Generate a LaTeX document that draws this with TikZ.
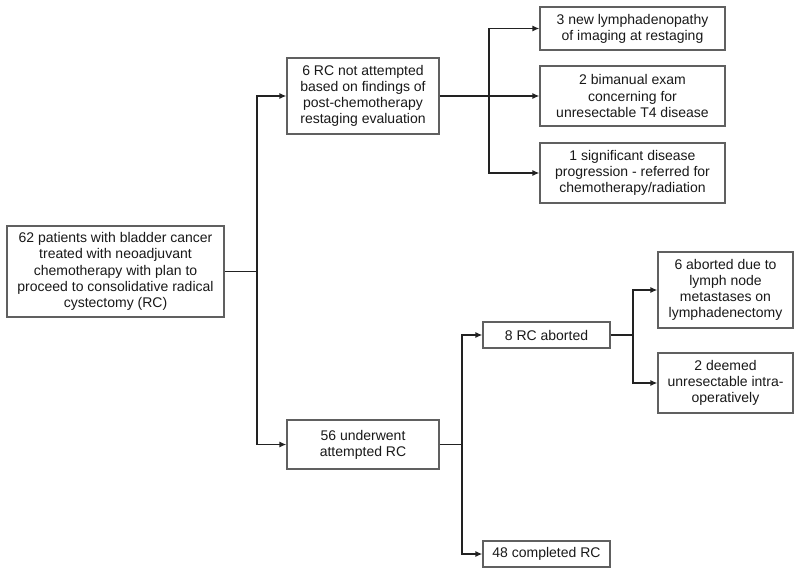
\documentclass[tikz,border=0pt]{standalone}
\usepackage{fontspec}
\setmainfont{Liberation Sans}
\usetikzlibrary{arrows.meta}
\definecolor{boxline}{HTML}{606060}
\definecolor{conn}{HTML}{222222}
\begin{document}
\begin{tikzpicture}[x=1pt,y=-1pt,
  box/.style={draw=boxline, line width=1.3pt, fill=white, align=center, inner sep=0pt,
    font=\fontsize{14}{16.2}\selectfont, text=black!90},
  conline/.style={draw=conn, line width=1.3pt},
  arr/.style={conline, -{Latex[length=7pt,width=6pt]}}]
\useasboundingbox (0,0) rectangle (800,575);
\fill[white] (0,0) rectangle (800,575);
\node[box, minimum width=217pt, minimum height=91pt] (main) at (115.5,271.5)
  {62 patients with bladder cancer\\treated with neoadjuvant\\chemotherapy with plan to\\proceed to consolidative radical\\cystectomy (RC)};
\node[box, minimum width=152pt, minimum height=76pt] (rcnot) at (363,96)
  {6 RC not attempted\\based on findings of\\post-chemotherapy\\restaging evaluation};
\node[box, minimum width=185pt, minimum height=43pt] (b1) at (632.5,28.5)
  {3 new lymphadenopathy\\of imaging at restaging};
\node[box, minimum width=185pt, minimum height=60pt] (b2) at (632.5,96)
  {2 bimanual exam\\concerning for\\unresectable T4 disease};
\node[box, minimum width=185pt, minimum height=60pt] (b3) at (632.5,173)
  {1 significant disease\\progression - referred for\\chemotherapy/radiation};
\node[box, minimum width=152pt, minimum height=49pt] (und) at (363,444.5)
  {56 underwent\\attempted RC};
\node[box, minimum width=127pt, minimum height=26pt] (abort) at (546.5,335)
  {8 RC aborted};
\node[box, minimum width=127pt, minimum height=26pt] (compl) at (546.5,554)
  {48 completed RC};
\node[box, minimum width=135pt, minimum height=76pt] (a1) at (725.5,290)
  {6 aborted due to\\lymph node\\metastases on\\lymphadenectomy};
\node[box, minimum width=135pt, minimum height=60pt] (a2) at (725.5,383)
  {2 deemed\\unresectable intra-\\operatively};
\coordinate (j1) at (257,271.5);
\coordinate (j2) at (489,96);
\coordinate (j3) at (462,444.5);
\coordinate (j4) at (633,335);
\draw[conline] (main.east) -- (j1);
\draw[arr] (j1) |- (rcnot.west);
\draw[arr] (j1) |- (und.west);
\draw[conline] (rcnot.east) -- (j2);
\draw[arr] (j2) |- (b1.west);
\draw[arr] (j2) -- (b2.west);
\draw[arr] (j2) |- (b3.west);
\draw[conline] (und.east) -- (j3);
\draw[arr] (j3) |- (abort.west);
\draw[arr] (j3) |- (compl.west);
\draw[conline] (abort.east) -- (j4);
\draw[arr] (j4) |- (a1.west);
\draw[arr] (j4) |- (a2.west);
\end{tikzpicture}
\end{document}
